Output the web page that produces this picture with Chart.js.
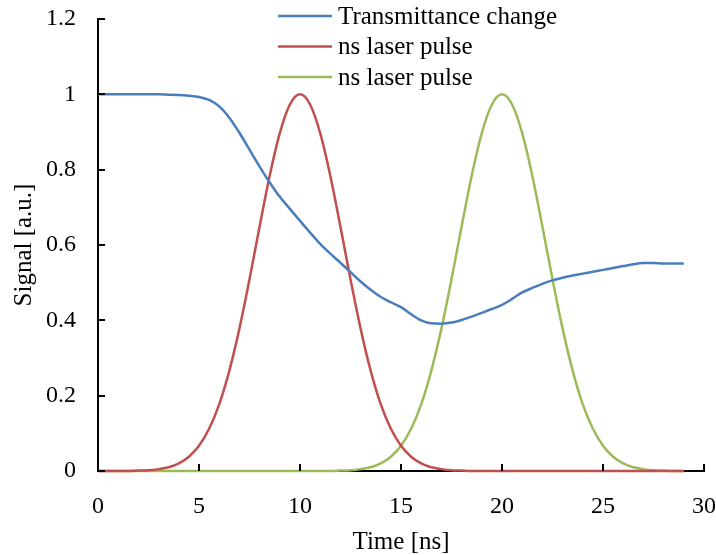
<!DOCTYPE html>
<html>
<head>
<meta charset="utf-8">
<script src="https://cdn.jsdelivr.net/npm/chart.js@4.4.1/dist/chart.umd.min.js"></script>
<style>
  html, body { margin: 0; padding: 0; background: #fff; }
  #wrap { width: 716px; height: 555px; }
</style>
</head>
<body>
<div id="wrap"><canvas id="mycanvas" width="716" height="555"></canvas></div>
<script>
// time axis [ns]
var time = [0, 0.5, 1, 1.5, 2, 2.5, 3, 3.5, 4, 4.5, 5, 5.5, 6, 6.5, 7, 7.5, 8, 8.5, 9, 9.5,
            10, 10.5, 11, 11.5, 12, 12.5, 13, 13.5, 14, 14.5, 15, 15.5, 16, 16.5, 17, 17.5, 18, 18.5, 19, 19.5,
            20, 20.5, 21, 21.5, 22, 22.5, 23, 23.5, 24, 24.5, 25, 25.5, 26, 26.5, 27, 27.5, 28, 28.5, 29];

var transmittance = [1.0, 1.0, 1.0, 1.0, 1.0, 1.0, 1.0, 0.999, 0.998, 0.996, 0.993, 0.985, 0.968, 0.938, 0.898, 0.853, 0.808, 0.766, 0.728, 0.696,
                     0.664, 0.633, 0.603, 0.577, 0.553, 0.528, 0.503, 0.481, 0.462, 0.448, 0.435, 0.416, 0.400, 0.392, 0.391, 0.394, 0.401, 0.410, 0.420, 0.430,
                     0.441, 0.457, 0.474, 0.486, 0.497, 0.506, 0.513, 0.519, 0.524, 0.529, 0.534, 0.539, 0.544, 0.549, 0.552, 0.552, 0.551, 0.551, 0.551];

var pulse1 = [0, 0, 0, 0, 0.001, 0.002, 0.005, 0.010, 0.020, 0.038, 0.067, 0.112, 0.177, 0.266, 0.378, 0.509, 0.649, 0.784, 0.897, 0.973,
              1.0, 0.973, 0.897, 0.784, 0.649, 0.509, 0.378, 0.266, 0.177, 0.112, 0.067, 0.038, 0.020, 0.010, 0.005, 0.002, 0.001, 0, 0, 0,
              0, 0, 0, 0, 0, 0, 0, 0, 0, 0, 0, 0, 0, 0, 0, 0, 0, 0, 0];

var pulse2 = [0, 0, 0, 0, 0, 0, 0, 0, 0, 0, 0, 0, 0, 0, 0, 0, 0, 0, 0, 0,
              0, 0, 0, 0, 0.001, 0.002, 0.005, 0.010, 0.020, 0.038, 0.067, 0.112, 0.177, 0.266, 0.378, 0.509, 0.649, 0.784, 0.897, 0.973,
              1.0, 0.973, 0.897, 0.784, 0.649, 0.509, 0.378, 0.266, 0.177, 0.112, 0.067, 0.038, 0.020, 0.010, 0.005, 0.002, 0.001, 0, 0];

var seriesNames = ['Transmittance change', 'ns laser pulse', 'ns laser pulse'];
var seriesColors = ['#4a7ebb', '#c0504d', '#9bbb59'];

var serif = "'Liberation Serif', 'Times New Roman', serif";

function toPoints(ys) {
    var pts = [];
    for (var i = 0; i < time.length; i++) pts.push({x: time[i], y: ys[i]});
    return pts;
}

function makeSet(i, ys) {
    return {
        label: seriesNames[i],
        data: toPoints(ys),
        borderColor: seriesColors[i],
        backgroundColor: seriesColors[i],
        borderWidth: 2.5,
        pointRadius: 0,
        cubicInterpolationMode: 'monotone',
        clip: 6
    };
}

// inward tick marks
var innerTicks = {
    id: 'innerTicks',
    afterDatasetsDraw: function(chart) {
        var c = chart.ctx, xs = chart.scales.x, ys = chart.scales.y;
        c.save();
        c.strokeStyle = '#000';
        c.lineWidth = 2;
        c.beginPath();
        ys.ticks.forEach(function(t) {
            var y = Math.round(ys.getPixelForValue(t.value));
            c.moveTo(xs.left, y); c.lineTo(xs.left + 7, y);
        });
        xs.ticks.forEach(function(t) {
            var x = Math.round(xs.getPixelForValue(t.value));
            c.moveTo(x, ys.bottom); c.lineTo(x, ys.bottom - 7);
        });
        c.stroke();
        c.restore();
    }
};

// legend in the upper area of the plot
var lineLegend = {
    id: 'lineLegend',
    afterDraw: function(chart) {
        var c = chart.ctx;
        c.save();
        c.font = '25px ' + serif;
        c.textBaseline = 'middle';
        chart.data.datasets.forEach(function(ds, i) {
            var y = 16 + i * 30.5;
            c.strokeStyle = ds.borderColor;
            c.lineWidth = 2.5;
            c.beginPath();
            c.moveTo(278, y); c.lineTo(332, y);
            c.stroke();
            c.fillStyle = '#000';
            c.fillText(ds.label, 338, y + 1);
        });
        c.restore();
    }
};

var ctx = document.getElementById('mycanvas');

var lineGraph = new Chart(ctx, {
    type: 'line',
    data: {
        datasets: [makeSet(0, transmittance), makeSet(1, pulse1), makeSet(2, pulse2)]
    },
    options: {
        responsive: false,
        animation: false,
        layout: { padding: { top: 19, right: 12, left: 0, bottom: 0 } },
        plugins: { legend: { display: false }, tooltip: { enabled: false } },
        scales: {
            x: {
                type: 'linear',
                min: 0,
                max: 30,
                ticks: { stepSize: 5, color: '#000', padding: 21, maxRotation: 0, font: { family: serif, size: 24 } },
                grid: { display: false, drawTicks: false },
                border: { display: true, color: '#000', width: 2 },
                title: { display: true, text: 'Time [ns]', color: '#000', padding: { top: 0, bottom: 0 }, font: { family: serif, size: 25, lineHeight: 1.0 } },
                afterFit: function(s) { s.height = 84; s.paddingLeft = 0; s.paddingRight = 0; }
            },
            y: {
                min: 0,
                max: 1.2,
                ticks: {
                    stepSize: 0.2, color: '#000', padding: 22, font: { family: serif, size: 24 },
                    callback: function(v) { return String(+v.toFixed(1)); }
                },
                grid: { display: false, drawTicks: false },
                border: { display: true, color: '#000', width: 2 },
                title: { display: true, text: 'Signal [a.u.]', color: '#000', padding: { top: 9, bottom: 0 }, font: { family: serif, size: 25 } },
                afterFit: function(s) { s.width = 98; s.paddingTop = 0; s.paddingBottom = 0; }
            }
        }
    },
    plugins: [innerTicks, lineLegend]
});
</script>
</body>
</html>
